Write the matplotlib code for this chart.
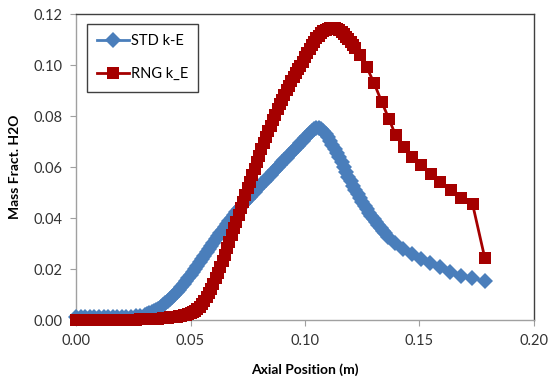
import matplotlib
matplotlib.use("Agg")
import matplotlib.pyplot as plt

# STD k-E series
std_x = [0.000, 0.002, 0.004, 0.006, 0.008, 0.010, 0.012, 0.014, 0.016, 0.018,
         0.020, 0.022, 0.024, 0.026, 0.028,
         0.030, 0.031, 0.032, 0.033, 0.034, 0.035, 0.036, 0.037, 0.038, 0.039,
         0.040, 0.041, 0.042, 0.043, 0.044, 0.045, 0.046, 0.047, 0.048, 0.049,
         0.050, 0.051, 0.052, 0.053, 0.054, 0.055, 0.056, 0.057, 0.058, 0.059,
         0.060, 0.061, 0.062, 0.063, 0.064, 0.065, 0.066, 0.067, 0.068, 0.069,
         0.070, 0.071, 0.072, 0.073, 0.074, 0.075, 0.076, 0.077, 0.078, 0.079,
         0.080, 0.081, 0.082, 0.083, 0.084, 0.085, 0.086, 0.087, 0.088, 0.089,
         0.090, 0.091, 0.092, 0.093, 0.094, 0.095, 0.096, 0.097, 0.098, 0.099,
         0.100, 0.101, 0.102, 0.103, 0.104, 0.105, 0.106, 0.107, 0.108, 0.109,
         0.110, 0.111, 0.112, 0.113, 0.114, 0.115, 0.116, 0.117, 0.118, 0.119,
         0.120, 0.121, 0.122, 0.123, 0.124, 0.125, 0.126, 0.127, 0.128, 0.129,
         0.130, 0.131, 0.132, 0.133, 0.134, 0.135,
         0.1364, 0.1393, 0.1429, 0.1466, 0.1507, 0.1546, 0.1590, 0.1633,
         0.1681, 0.1728, 0.1786]
std_y = [0.0010, 0.0010, 0.0010, 0.0010, 0.0010, 0.0010, 0.0010, 0.0010, 0.0010, 0.0010,
         0.0010, 0.0011, 0.0012, 0.0014, 0.0017,
         0.0021, 0.0024, 0.0027, 0.0031, 0.0035, 0.0040, 0.0045, 0.0051, 0.0058, 0.0065,
         0.0073, 0.0081, 0.0090, 0.0099, 0.0109, 0.0119, 0.0130, 0.0141, 0.0152, 0.0164,
         0.0176, 0.0188, 0.0201, 0.0213, 0.0226, 0.0239, 0.0252, 0.0265, 0.0278, 0.0291,
         0.0304, 0.0316, 0.0329, 0.0341, 0.0354, 0.0366, 0.0378, 0.0390, 0.0401, 0.0412,
         0.0423, 0.0434, 0.0444, 0.0454, 0.0464, 0.0474, 0.0484, 0.0494, 0.0504, 0.0513,
         0.0523, 0.0532, 0.0542, 0.0551, 0.0561, 0.0570, 0.0580, 0.0589, 0.0599, 0.0608,
         0.0618, 0.0627, 0.0637, 0.0646, 0.0656, 0.0665, 0.0675, 0.0684, 0.0694, 0.0703,
         0.0713, 0.0722, 0.0732, 0.0741, 0.0750, 0.0755, 0.0755, 0.0750, 0.0742, 0.0731,
         0.0718, 0.0704, 0.0688, 0.0672, 0.0655, 0.0638, 0.0620, 0.0601, 0.0582, 0.0563,
         0.0545, 0.0527, 0.0510, 0.0494, 0.0478, 0.0463, 0.0448, 0.0434, 0.0420, 0.0407,
         0.0395, 0.0383, 0.0372, 0.0361, 0.0350, 0.0340,
         0.0327, 0.0301, 0.0277, 0.0258, 0.0238, 0.0222, 0.0207, 0.0189,
         0.0174, 0.0163, 0.0154]

# RNG k_E series
rng_x = [0.000, 0.002, 0.004, 0.006, 0.008, 0.010, 0.012, 0.014, 0.016, 0.018,
         0.020, 0.022, 0.024, 0.026, 0.028, 0.030, 0.032, 0.034, 0.036, 0.038,
         0.040, 0.041, 0.042, 0.043, 0.044, 0.045, 0.046, 0.047, 0.048, 0.049,
         0.050, 0.051, 0.052, 0.053, 0.054, 0.055, 0.056, 0.057, 0.058, 0.059,
         0.060, 0.061, 0.062, 0.063, 0.064, 0.065, 0.066, 0.067, 0.068, 0.069,
         0.070, 0.071, 0.072, 0.073, 0.074, 0.075, 0.076, 0.077, 0.078, 0.079,
         0.080, 0.081, 0.082, 0.083, 0.084, 0.085, 0.086, 0.087, 0.088, 0.089,
         0.090, 0.091, 0.092, 0.093, 0.094, 0.095, 0.096, 0.097, 0.098, 0.099,
         0.100, 0.101, 0.102, 0.103, 0.104, 0.105, 0.106, 0.107, 0.108, 0.109,
         0.110, 0.111, 0.112, 0.113, 0.114, 0.115, 0.116, 0.117, 0.118, 0.119,
         0.120, 0.121, 0.122, 0.124, 0.127, 0.1301, 0.1335, 0.1366, 0.1396, 0.1432,
         0.1469, 0.1507, 0.1549, 0.1591, 0.1636, 0.1681, 0.1732, 0.1785]
rng_y = [0.0000, 0.0000, 0.0000, 0.0000, 0.0000, 0.0001, 0.0001, 0.0001, 0.0001, 0.0001,
         0.0001, 0.0002, 0.0002, 0.0002, 0.0003, 0.0003, 0.0004, 0.0005, 0.0006, 0.0007,
         0.0009, 0.0010, 0.0011, 0.0012, 0.0013, 0.0014, 0.0016, 0.0018, 0.0020, 0.0023,
         0.0026, 0.0030, 0.0036, 0.0043, 0.0052, 0.0063, 0.0075, 0.0089, 0.0105, 0.0123,
         0.0142, 0.0163, 0.0185, 0.0208, 0.0232, 0.0257, 0.0282, 0.0308, 0.0334, 0.0360,
         0.0386, 0.0412, 0.0438, 0.0464, 0.0490, 0.0516, 0.0542, 0.0568, 0.0593, 0.0619,
         0.0644, 0.0669, 0.0694, 0.0718, 0.0741, 0.0763, 0.0785, 0.0806, 0.0826, 0.0846,
         0.0865, 0.0884, 0.0902, 0.0919, 0.0936, 0.0952, 0.0968, 0.0983, 0.0998, 0.1014,
         0.1030, 0.1046, 0.1062, 0.1077, 0.1092, 0.1105, 0.1116, 0.1125, 0.1133, 0.1139,
         0.1143, 0.1145, 0.1146, 0.1144, 0.1141, 0.1136, 0.1130, 0.1122, 0.1112, 0.1102,
         0.1092, 0.1080, 0.1066, 0.1039, 0.0991, 0.0931, 0.0856, 0.0790, 0.0725, 0.0677,
         0.0640, 0.0607, 0.0571, 0.0540, 0.0510, 0.0480, 0.0455, 0.0245]

x_ticks = [0.00, 0.05, 0.10, 0.15, 0.20]
y_ticks = [0.00, 0.02, 0.04, 0.06, 0.08, 0.10, 0.12]

blue = '#4A7EBB'
red = '#A50000'

plt.rcParams['font.family'] = ['Lato', 'DejaVu Sans']

fig = plt.figure(figsize=(5.51, 3.81), dpi=100)
ax = fig.add_axes([0.138, 0.160, 0.831, 0.803])

ax.plot(std_x, std_y, color=blue, lw=2, marker='D', markersize=8.5,
        markeredgewidth=0, label='STD k-E', clip_on=False, zorder=3)
ax.plot(rng_x, rng_y, color=red, lw=2, marker='s', markersize=8.5,
        markeredgewidth=0, label='RNG k_E', clip_on=False, zorder=4)

ax.set_xlim(0, 0.20)
ax.set_ylim(0, 0.12)
ax.set_xticks(x_ticks)
ax.set_yticks(y_ticks)
ax.set_xticklabels(['%.2f' % v for v in x_ticks])
ax.set_yticklabels(['%.2f' % v for v in y_ticks])
ax.tick_params(direction='out', length=4, color='#A0A0A0', labelsize=10.5,
               labelcolor='#333333', pad=6)

for s in ['left', 'bottom']:
    ax.spines[s].set_color('#A0A0A0')
    ax.spines[s].set_linewidth(1)
for s in ['top', 'right']:
    ax.spines[s].set_color('#404040')
    ax.spines[s].set_linewidth(1)

ax.set_xlabel('Axial Position (m)', fontsize=10, fontweight='bold', labelpad=11)
ax.set_ylabel('Mass Fract. H2O', fontsize=10, fontweight='bold', labelpad=9)

leg = ax.legend(loc='upper left', bbox_to_anchor=(0.024, 0.967), fontsize=10.5,
                fancybox=False, framealpha=1, edgecolor='#404040',
                handlelength=2.2, handletextpad=0.1, borderpad=0.7,
                labelspacing=1.3, borderaxespad=0)
leg.get_frame().set_linewidth(1)

fig.savefig('out.png', dpi=100)
